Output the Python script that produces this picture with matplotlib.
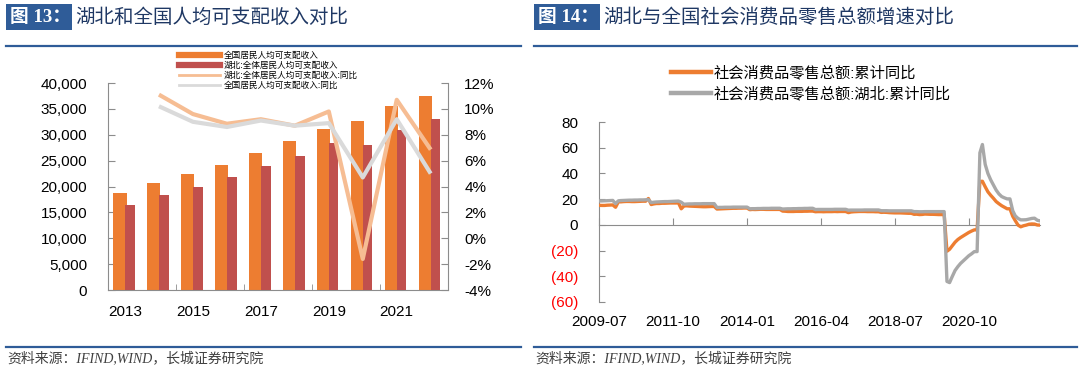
import numpy as np
import pandas as pd
import matplotlib
matplotlib.use('Agg')
import matplotlib.pyplot as plt
import matplotlib.dates as mdates
from matplotlib.lines import Line2D
from matplotlib.patches import Rectangle

plt.rcParams['font.family'] = ['Liberation Sans', 'Noto Sans CJK SC', 'DejaVu Sans']
plt.rcParams['axes.unicode_minus'] = False

# ---------------- figure 13 data ----------------
years = [2013, 2014, 2015, 2016, 2017, 2018, 2019, 2020, 2021, 2022]
national_income = [18650, 20580, 22400, 24200, 26400, 28700, 31200, 32700, 35600, 37400]
hubei_income = [16500, 18300, 20000, 21900, 23900, 25900, 28400, 28000, 31000, 33100]
hubei_yoy = [np.nan, 11.1, 9.6, 8.85, 9.2, 8.7, 9.8, -1.6, 10.7, 6.85]
national_yoy = [np.nan, 10.2, 9.0, 8.6, 9.1, 8.7, 8.9, 4.7, 9.2, 5.0]
income_labels = ['全国居民人均可支配收入', '湖北:全体居民人均可支配收入',
                 '湖北:全体居民人均可支配收入:同比', '全国居民人均可支配收入:同比']

# ---------------- figure 14 data (monthly, 2009-07 .. 2022-12) ----------------
months = pd.date_range('2009-07-01', '2022-12-01', freq='MS')
retail_national = [
    15.2, 15.1, 15.1, 15.3, 15.4, 15.5,
    13.7, 17.9, 17.9, 18.1, 18.2, 18.2, 18.1, 18.1, 18.2, 18.3, 18.4, 18.4,
    20.5, 15.8, 16.3, 16.6, 16.6, 16.8, 16.8, 16.9, 17.0, 17.0, 17.0, 17.1,
    12.5, 14.7, 14.8, 14.6, 14.5, 14.4, 14.3, 14.2, 14.1, 14.1, 14.2, 14.3,
    14.3, 12.3, 12.4, 12.5, 12.6, 12.7, 12.8, 12.9, 12.9, 13.0, 13.0, 13.1,
    13.1, 11.8, 12.0, 11.9, 12.0, 12.1, 12.1, 12.0, 12.0, 12.0, 12.0, 12.0,
    12.0, 10.7, 10.6, 10.4, 10.4, 10.4, 10.5, 10.5, 10.5, 10.6, 10.6, 10.7,
    10.7, 10.2, 10.3, 10.3, 10.2, 10.3, 10.3, 10.3, 10.4, 10.3, 10.4, 10.4,
    10.4, 9.5, 10.0, 10.2, 10.3, 10.4, 10.4, 10.4, 10.3, 10.3, 10.3, 10.2,
    10.2, 9.7, 9.8, 9.7, 9.5, 9.4, 9.3, 9.3, 9.3, 9.2, 9.1, 9.0,
    9.0, 8.2, 8.3, 8.0, 8.1, 8.4, 8.3, 8.2, 8.2, 8.1, 8.0, 8.0,
    8.0, -20.5, -19.0, -16.2, -13.5, -11.4, -9.9, -8.6, -7.2, -5.9, -4.8, -3.9,
    -3.9, 33.8, 33.9, 29.6, 25.7, 23.0, 20.7, 18.1, 16.4, 14.9, 13.7, 12.5,
    12.5, 6.7, 3.3, -0.2, -1.5, -0.7, -0.2, 0.5, 0.7, 0.6, -0.1, -0.2,
]
retail_hubei = [
    18.6, 18.6, 18.7, 18.8, 18.9, 19.0,
    16.5, 18.7, 18.9, 19.0, 19.1, 19.2, 19.2, 19.3, 19.3, 19.4, 19.4, 19.5,
    19.6, 17.3, 17.6, 17.8, 17.9, 18.0, 18.1, 18.1, 18.2, 18.3, 18.4, 18.5,
    17.6, 16.0, 16.2, 16.3, 16.3, 16.4, 16.4, 16.4, 16.5, 16.5, 16.5, 16.5,
    16.5, 13.5, 13.6, 13.6, 13.7, 13.7, 13.7, 13.8, 13.8, 13.8, 13.8, 13.8,
    13.8, 12.5, 12.6, 12.6, 12.7, 12.7, 12.8, 12.8, 12.8, 12.9, 12.9, 12.9,
    12.9, 12.3, 12.4, 12.5, 12.5, 12.6, 12.6, 12.7, 12.7, 12.8, 12.8, 12.9,
    12.9, 11.9, 12.0, 12.0, 12.0, 12.0, 12.0, 12.0, 12.1, 12.1, 12.1, 12.1,
    12.1, 11.4, 11.5, 11.5, 11.5, 11.5, 11.5, 11.6, 11.6, 11.6, 11.6, 11.6,
    11.6, 11.0, 11.0, 11.0, 10.9, 10.9, 10.9, 10.9, 10.9, 10.9, 10.9, 10.9,
    10.9, 10.3, 10.3, 10.2, 10.2, 10.3, 10.3, 10.3, 10.3, 10.3, 10.3, 10.3,
    10.3, -44.0, -44.9, -40.0, -35.5, -32.5, -30.0, -28.0, -26.0, -24.0, -22.5, -20.8,
    -20.8, 56.0, 62.5, 47.0, 40.0, 35.0, 31.0, 27.0, 24.0, 22.0, 21.0, 20.2,
    20.2, 11.0, 7.0, 5.0, 3.9, 3.9, 4.0, 4.5, 5.0, 5.2, 3.6, 3.1,
]
retail_labels = ['社会消费品零售总额:累计同比', '社会消费品零售总额:湖北:累计同比']
retail_ticks = ['2009-07', '2011-10', '2014-01', '2016-04', '2018-07', '2020-10']

ORANGE = '#ED7D31'
RED = '#C0504D'
PEACH = '#F6BD93'
LGRAY = '#DADADA'
GRAY = '#A8A8A8'
SPINE = '#8C8C8C'
BLUE = '#2F5C98'
NAVY = '#1F3864'

W, H = 1080, 376
fig = plt.figure(figsize=(W / 100, H / 100), dpi=100)


def fx(px):
    return px / W


def fy(py):
    return 1 - py / H


def header(x0, x1, num, title):
    fig.add_artist(Rectangle((fx(x0), fy(30)), fx(66), 26 / H, transform=fig.transFigure,
                             facecolor=BLUE, edgecolor='none'))
    fig.text(fx(x0 + 4), fy(17.5), '图 ' + num + '：', color='white', fontsize=13.5,
             fontweight='bold', va='center', family=['Liberation Serif', 'Noto Sans CJK SC'])
    fig.text(fx(x0 + 69), fy(17.5), title, color=NAVY, fontsize=14, va='center',
             family=['Noto Sans CJK SC'])
    fig.add_artist(Line2D([fx(x0), fx(x1)], [fy(45.5), fy(45.5)], transform=fig.transFigure,
                          color=BLUE, lw=1.6))
    fig.add_artist(Line2D([fx(x0), fx(x1)], [fy(347), fy(347)], transform=fig.transFigure,
                          color=BLUE, lw=1.6))
    fig.text(fx(x0 + 1), fy(359), '资料来源：IFIND,WIND，长城证券研究院', color='#404040',
             fontsize=10, va='center', style='italic',
             family=['Liberation Serif', 'Noto Sans CJK SC'])


header(6, 521, '13', '湖北和全国人均可支配收入对比')
header(534, 1077, '14', '湖北与全国社会消费品零售总额增速对比')

# ---------------- left chart ----------------
ax = fig.add_axes([fx(108), fy(290), fx(447.7 - 108), (290 - 83) / H])
x = np.arange(len(years))
ax.bar(x - 0.155, national_income, width=0.40, color=ORANGE, zorder=2)
ax.bar(x + 0.14, hubei_income, width=0.29, color=RED, zorder=3)
ax.set_xlim(-0.5, len(years) - 0.5)
ax.set_ylim(0, 40000)
ax.set_yticks(range(0, 40001, 5000))
ax.set_yticklabels([f'{v:,}' for v in range(0, 40001, 5000)])
ax.set_xticks(x[::2])
ax.set_xticklabels([str(y) for y in years[::2]])
ax.set_xticks([1.5, 3.5, 5.5, 7.5], minor=True)
ax.tick_params(axis='x', which='major', length=0, pad=11, labelsize=11)
ax.tick_params(axis='x', which='minor', direction='in', length=4, color=SPINE)
ax.tick_params(axis='y', direction='in', length=5, color=SPINE, pad=15, labelsize=11)
for s in ['top', 'right']:
    ax.spines[s].set_visible(False)
for s in ['left', 'bottom']:
    ax.spines[s].set_color(SPINE)

ax2 = ax.twinx()
ax2.plot(x, hubei_yoy, color=PEACH, lw=3, solid_capstyle='butt')
ax2.plot(x, national_yoy, color=LGRAY, lw=3, solid_capstyle='butt')
ax2.set_ylim(-4, 12)
ax2.set_yticks(range(-4, 13, 2))
ax2.set_yticklabels([f'{v}%' for v in range(-4, 13, 2)])
ax2.tick_params(axis='y', direction='in', length=5, color=SPINE, pad=12, labelsize=11)
for s in ['top', 'left', 'bottom']:
    ax2.spines[s].set_visible(False)
ax2.spines['right'].set_color(SPINE)

handles = [Line2D([], [], color=ORANGE, lw=4.5), Line2D([], [], color=RED, lw=4.5),
           Line2D([], [], color=PEACH, lw=2), Line2D([], [], color=LGRAY, lw=2)]
fig.legend(handles, income_labels, loc='upper left', bbox_to_anchor=(fx(179), fy(51)),
           frameon=False, fontsize=6.2, handlelength=4.8, handletextpad=0.35,
           labelspacing=0.1, borderpad=0, borderaxespad=0)

# ---------------- right chart ----------------
bx = fig.add_axes([fx(599), fy(302), fx(1040 - 599), (302 - 122) / H])
mx = mdates.date2num(months)
bx.plot(mx, retail_national, color=ORANGE, lw=2.4, zorder=3)
bx.plot(mx, retail_hubei, color=GRAY, lw=2.4, zorder=4)
bx.set_xlim(mx[0], mx[-1])
bx.set_ylim(-60, 80)
yt = list(range(-60, 81, 20))
bx.set_yticks(yt)
bx.set_yticklabels([f'({-v})' if v < 0 else f'{v}' for v in yt])
for lab, v in zip(bx.get_yticklabels(), yt):
    lab.set_color('#FF0000' if v < 0 else 'black')
bx.tick_params(axis='y', direction='in', length=4, color=SPINE, pad=15, labelsize=11)
tick_pos = mdates.date2num(pd.to_datetime([t + '-01' for t in retail_ticks]))
bx.set_xticks(tick_pos)
bx.tick_params(axis='x', direction='in', length=5, color=SPINE, labelbottom=False)
bx.spines['bottom'].set_position(('data', 0))
bx.spines['bottom'].set_color(SPINE)
bx.spines['left'].set_color(SPINE)
for s in ['top', 'right']:
    bx.spines[s].set_visible(False)

sec = bx.secondary_xaxis('bottom')
sec.set_xticks(tick_pos)
sec.set_xticklabels(retail_ticks)
sec.tick_params(axis='x', length=0, pad=9, labelsize=11)
sec.spines['bottom'].set_visible(False)

handles2 = [Line2D([], [], color=ORANGE, lw=3.2), Line2D([], [], color=GRAY, lw=3.2)]
fig.legend(handles2, retail_labels, loc='upper left', bbox_to_anchor=(fx(671), fy(66)),
           frameon=False, fontsize=11, handlelength=2.6, handletextpad=0.2,
           labelspacing=0.4, borderpad=0, borderaxespad=0)

fig.savefig('out.png', dpi=100)
